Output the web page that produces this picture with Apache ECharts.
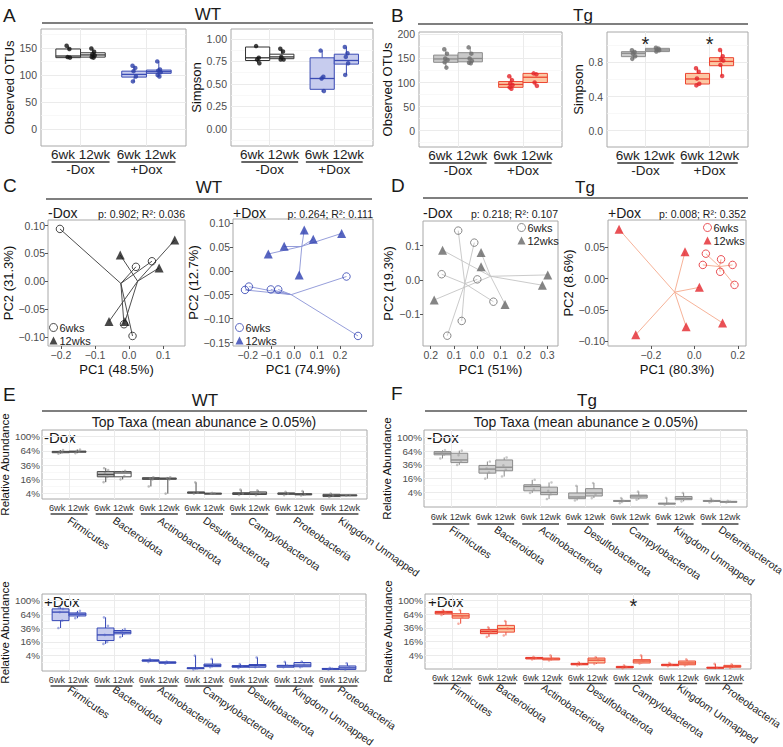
<!DOCTYPE html>
<html><head><meta charset="utf-8">
<script src="https://cdn.jsdelivr.net/npm/echarts@6/dist/echarts.min.js"></script>
<style>html,body{margin:0;padding:0;background:#fff}#c{width:783px;height:747px}</style>
</head><body><div id="c"></div>
<script>
// ================= DATA =================
const TIMES = ['6wk', '12wk'];
const DOX = ['-Dox', '+Dox'];
// Box stats [min, q1, median, q3, max]; order: -Dox 6wk, -Dox 12wk, +Dox 6wk, +Dox 12wk
const wtOtuStats = [[132,132,135,148,154],[132,133,137,141,149],[87,96,101,107,117],[97,103,106,109,125]];
const wtOtuPoints = [[154,148,133,132],[149,143,138,136,133,132],[117,113,107,97,88],[125,110,108,105,100,97]];
const wtSimStats = [[0.73,0.76,0.79,0.91,0.92],[0.77,0.78,0.80,0.83,0.89],[0.41,0.44,0.56,0.79,0.87],[0.60,0.72,0.76,0.83,0.91]];
const wtSimPoints = [[0.92,0.79,0.77,0.73],[0.89,0.86,0.80,0.77,0.77],[0.87,0.58,0.56,0.42],[0.91,0.84,0.80,0.73,0.60]];
const tgOtuStats = [[131,142,149,157,169],[140,143,150,162,173],[87,90,96,102,113],[93,100,111,119,119]];
const tgOtuPoints = [[169,160,150,147,142,131],[173,160,150,145,141,140],[113,105,98,95,90,87],[119,117,100,93]];
const tgSimStats = [[0.835,0.866,0.905,0.924,0.94],[0.92,0.925,0.944,0.963,0.97],[0.53,0.546,0.605,0.67,0.73],[0.64,0.76,0.81,0.854,0.944]];
const tgSimPoints = [[0.94,0.92,0.90,0.87,0.84],[0.97,0.96,0.95,0.94,0.925],[0.73,0.69,0.61,0.55,0.53],[0.944,0.87,0.84,0.82,0.77,0.64]];
const tgSimStars = [[1, 1.084], [2, 1.084]];

// PCoA coordinates [PC1, PC2]
const wtMinus6 = [[-0.203,0.094],[0.020,0.026],[0.067,0.036],[-0.015,-0.077],[0.010,-0.098]];
const wtMinus12 = [[0.134,0.074],[-0.026,0.047],[0.088,0.024],[-0.059,-0.072],[-0.012,-0.072]];
const wtPlus6 = [[0.228,-0.012],[-0.195,-0.033],[-0.212,-0.040],[-0.100,-0.039],[-0.068,-0.039],[0.278,-0.136]];
const wtPlus12 = [[0.045,0.085],[0.207,0.078],[0.084,0.066],[-0.042,0.051],[-0.111,0.035],[0.023,-0.009]];
const tgMinus6 = [[-0.082,0.144],[-0.013,0.109],[-0.153,0.017],[0.000,0.002],[0.069,-0.063],[-0.067,-0.119],[-0.129,-0.162]];
const tgMinus12 = [[-0.149,0.087],[0.016,0.080],[0.016,0.039],[0.302,0.015],[0.279,-0.015],[-0.185,-0.058],[0.119,-0.071]];
const tgPlus6 = [[0.053,0.040],[0.123,0.031],[0.039,0.022],[0.176,0.022],[0.119,0.011],[0.185,-0.010]];
const tgPlus12 = [[-0.347,0.079],[-0.043,0.043],[0.023,-0.014],[0.130,-0.071],[-0.038,-0.077],[-0.270,-0.090]];

// Taxa relative abundance (%), box stats [min,q1,median,q3,max]
const taxaWtMinus = ['Firmicutes','Bacteroidota','Actinobacteriota','Desulfobacterota','Campylobacterota','Proteobacteria','Kingdom Unmapped'];
const wtMinusStats6 = [[58,60,62,63,66],[13,19,22,26,31],[9,16,16.7,18,18.5],[4,4.2,4.6,5,12.8],[3.3,3.5,4,4.5,6.5],[3.2,3.6,4,4.4,5],[2.3,2.5,3,3.6,4]];
const wtMinusStats12 = [[59,61,62.5,63.5,67],[16,19,24,26,27],[4,16,17,17.5,18.5],[3.8,4,4.1,4.2,4.4],[3.2,3.5,4.2,5,6],[3,3.3,3.6,4,5.5],[2.9,3,3.1,3.3,3.4]];
const wtMinusPts6 = [[58,61,63,66],[13,19,24,28,31],[9,16,17,18.5],[4,4.5,12.8],[3.3,4,6.5],[3.2,4,5],[2.3,3,4]];
const wtMinusPts12 = [[59,62,64,67],[16,20,25,27],[4,16,17.5,18.5],[3.9,4.1,4.4],[3.2,4.5,6],[3,3.5,5.5],[2.9,3.2]];

const taxaWtPlus = ['Firmicutes','Bacteroidota','Actinobacteriota','Campylobacterota','Desulfobacterota','Kingdom Unmapped','Proteobacteria'];
const wtPlusStats6 = [[36,50,69,77,81],[13.7,17.5,25,36,57],[1.2,1.4,1.7,1.9,2.2],[0,0.01,0.03,0.06,4],[0.05,0.1,0.2,0.3,0.6],[0.1,0.1,0.25,0.35,1.2],[0,0,0.01,0.02,0.05]];
const wtPlusStats12 = [[55,60,64,67,72],[22,26.6,29,31.8,34],[0.7,0.8,1.0,1.2,1.3],[0.1,0.16,0.35,0.6,2.3],[0.1,0.1,0.3,0.5,3],[0.1,0.15,0.4,1.0,1.3],[0,0,0.05,0.25,0.8]];
const wtPlusPts6 = [[36,50,69,77,81],[13.7,16,25,40,57],[1.2,1.7,2.2],[0,0.02,4],[0.05,0.2,0.6],[0.1,0.3,1.2],[0,0.01,0.05]];
const wtPlusPts12 = [[55,62,66,72],[22,27,30,34],[0.7,1.0,1.3],[0.1,0.4,2.3],[0.1,0.3,3],[0.1,0.5,1.3],[0,0.1,0.8]];

const taxaTgMinus = ['Firmicutes','Bacteroidota','Actinobacteriota','Desulfobacterota','Campylobacterota','Kingdom Unmapped','Deferribacterota'];
const tgMinusStats6 = [[48,55.5,59,62.7,66],[16,23,29,35,42],[3.7,5,8.2,9.7,14.7],[0.7,1.2,1.8,3.7,8.8],[0.2,0.5,0.6,0.7,1.4],[0.05,0.1,0.15,0.2,1.5],[0.3,0.5,0.6,0.7,1.2]];
const tgMinusStats12 = [[36,40,45,59,65],[18.6,26.4,32,45,50],[1.1,2.8,4,7.7,11.9],[1.4,2.2,3.7,6.5,11.3],[0.9,1.4,2.2,2.6,4.5],[0.5,0.9,1.3,2.0,3.7],[0.3,0.4,0.45,0.5,0.6]];
const tgMinusPts6 = [[48,56,60,66],[16,24,30,42],[3.7,6,9,14.7],[0.7,1.5,8.8],[0.2,0.6,1.4],[0.05,0.15,1.5],[0.3,0.6,1.2]];
const tgMinusPts12 = [[36,42,55,65],[18.6,28,35,50],[1.1,3,5,11.9],[1.4,3,11.3],[0.9,2,4.5],[0.5,1.3,3.7],[0.3,0.45,0.6]];

const taxaTgPlus = ['Firmicutes','Bacteroidota','Actinobacteriota','Desulfobacterota','Campylobacterota','Kingdom Unmapped','Proteobacteria'];
const tgPlusStats6 = [[62,64.4,68.5,70.6,74],[22,26.6,30,33,37],[2.0,2.2,2.6,2.9,3.2],[0.3,0.4,0.55,0.7,1.0],[0.02,0.04,0.08,0.16,0.3],[0.2,0.25,0.4,0.5,0.8],[0,0.02,0.04,0.08,0.6]];
const tgPlusStats12 = [[43.7,55,60,65,74],[24,29,34.6,40.5,49],[1.6,1.8,2.2,2.6,4],[0.6,0.8,1.7,2.6,3],[0.7,0.8,1.4,1.9,4],[0.3,0.4,0.8,1.4,2],[0.03,0.08,0.15,0.3,0.5]];
const tgPlusPts6 = [[62,68,74],[22,30,37],[2.0,2.6,3.2],[0.3,0.55,1.0],[0.02,0.1,0.3],[0.2,0.4,0.8],[0,0.04,0.6]];
const tgPlusPts12 = [[43.7,58,74],[24,35,49],[1.6,2.2,4],[0.6,1.7,3],[0.7,1.4,4],[0.3,0.8,2],[0.03,0.15,0.5]];
const tgPlusStars = [[5, 1.0]];

// ================= BUILD =================
const FONT = '"Liberation Sans", Arial, Helvetica, sans-serif';
const TICK_COL = '#4d4d4d';
const GRID_COL = '#ebebeb';
const MINOR_COL = '#f5f5f5';
const BORDER_COL = '#a8a8a8';
const JIT = [-0.04, 0.03, -0.015, 0.045, -0.03, 0.015, 0.0];
const BOX_X = [0.8125, 1.1875, 1.8125, 2.1875];
const TIME_LABEL = TIMES.join(' ');

const grids = [], xAxes = [], yAxes = [], series = [], graphics = [], legends = [];

function addGrid(r) {
  grids.push({left: r[0], top: r[1], width: r[2], height: r[3], show: true, borderColor: BORDER_COL, borderWidth: 1,
    backgroundColor: 'rgba(0,0,0,0)', containLabel: false, outerBoundsMode: 'none'});
  return grids.length - 1;
}
function fmtN(d) { return v => (v < -1e-9 ? '\u2212' : '') + Math.abs(v).toFixed(d); }
function mean(a) { return a.reduce((s, v) => s + v, 0) / a.length; }
const NOLINE = {show: false, onZero: false};

function boxRender(styleOf, bw) {
  return function (params, api) {
    const x = api.value(0);
    const st = styleOf(params.dataIndex);
    const hw = api.size([bw, 0])[0] / 2;
    const pmin = api.coord([x, api.value(1)]);
    const pq1 = api.coord([x, api.value(2)]);
    const pmed = api.coord([x, api.value(3)]);
    const pq3 = api.coord([x, api.value(4)]);
    const pmax = api.coord([x, api.value(5)]);
    const lw = st.lw || 1;
    return {type: 'group', children: [
      {type: 'line', shape: {x1: pmin[0], y1: pmin[1], x2: pq1[0], y2: pq1[1]}, style: {stroke: st.stroke, lineWidth: lw}},
      {type: 'line', shape: {x1: pq3[0], y1: pq3[1], x2: pmax[0], y2: pmax[1]}, style: {stroke: st.stroke, lineWidth: lw}},
      {type: 'rect', shape: {x: pq1[0] - hw, y: pq3[1], width: hw * 2, height: Math.max(pq1[1] - pq3[1], 1)},
        style: {fill: st.fill, stroke: st.stroke, lineWidth: lw}},
      {type: 'line', shape: {x1: pmed[0] - hw, y1: pmed[1], x2: pmed[0] + hw, y2: pmed[1]}, style: {stroke: st.med || st.stroke, lineWidth: lw * 1.3}}
    ]};
  };
}
function underlineSeries(xi, yi, centers, yMin, hw, off, color) {
  series.push({type: 'custom', xAxisIndex: xi, yAxisIndex: yi, silent: true,
    data: centers.map(c => [c, yMin]),
    renderItem: (params, api) => {
      const a = api.coord([api.value(0) - hw, api.value(1)]);
      const b = api.coord([api.value(0) + hw, api.value(1)]);
      return {type: 'line', shape: {x1: a[0], y1: a[1] + off, x2: b[0], y2: b[1] + off}, style: {stroke: color, lineWidth: 1.4}};
    }});
}
function starSeries(xi, yi, data, size) {
  series.push({type: 'custom', xAxisIndex: xi, yAxisIndex: yi, silent: true, data: data,
    renderItem: (params, api) => {
      const c = api.coord([api.value(0), api.value(1)]);
      return {type: 'text', x: c[0], y: c[1] + size * 0.28, style: {text: '*', fontSize: size, fontFamily: FONT, fill: '#222',
        align: 'center', verticalAlign: 'middle', textAlign: 'center', textVerticalAlign: 'middle'}};
    }});
}

function boxPanel(p) {
  const gi = addGrid(p.rect);
  const xi = xAxes.length;
  xAxes.push({type: 'value', gridIndex: gi, min: 0.4, max: 2.6,
    axisLine: NOLINE, axisTick: {show: false, customValues: [1, 2]},
    axisLabel: {customValues: [1, 2], formatter: () => TIME_LABEL, fontSize: 13.5, color: '#222', margin: 1.5, fontFamily: FONT},
    splitLine: {show: true, lineStyle: {color: GRID_COL, width: 1}}});
  xAxes.push({type: 'value', gridIndex: gi, min: 0.4, max: 2.6, position: 'bottom', offset: 16.5,
    axisLine: NOLINE, axisTick: {show: false, customValues: [1, 2]},
    axisLabel: {customValues: [1, 2], formatter: v => DOX[Math.round(v) - 1], fontSize: 13.5, color: '#222', margin: 0, fontFamily: FONT},
    splitLine: {show: false}});
  const yi = yAxes.length;
  yAxes.push({type: 'value', gridIndex: gi, min: p.yMin, max: p.yMax, position: 'left',
    name: p.yName, nameLocation: 'middle', nameGap: p.nameGap, nameTextStyle: {fontSize: 13, color: '#111', fontFamily: FONT},
    axisLine: NOLINE, axisTick: {show: false, customValues: p.yTicks},
    axisLabel: {customValues: p.yTicks, formatter: p.yFmt, fontSize: 10.5, color: TICK_COL, margin: 4, fontFamily: FONT},
    splitLine: {show: true, lineStyle: {color: GRID_COL, width: 1}}});
  yAxes.push({type: 'value', gridIndex: gi, min: p.yMin, max: p.yMax, position: 'left',
    axisLine: NOLINE, axisTick: {show: false, customValues: p.yMinor}, axisLabel: {show: false},
    splitLine: {show: true, lineStyle: {color: MINOR_COL, width: 0.7}}});
  series.push({type: 'custom', xAxisIndex: xi, yAxisIndex: yi, z: 2, silent: true,
    renderItem: boxRender(i => p.styles[i], 0.375),
    data: p.stats.map((s, i) => [BOX_X[i]].concat(s))});
  p.points.forEach((arr, i) => {
    series.push({type: 'scatter', xAxisIndex: xi, yAxisIndex: yi, z: 3, silent: true, symbolSize: 4.5,
      itemStyle: {color: p.styles[i].pt},
      data: arr.map((v, j) => [BOX_X[i] + JIT[j % JIT.length] * 0.6, v])});
  });
  underlineSeries(xi, yi, [1, 2], p.yMin, 0.44, 16, '#333');
  if (p.stars) starSeries(xi, yi, p.stars, 20);
}

function pcoaPanel(p) {
  const gi = addGrid(p.rect);
  const xi = xAxes.length;
  xAxes.push({type: 'value', gridIndex: gi, min: p.xMin, max: p.xMax,
    name: p.xName, nameLocation: 'middle', nameGap: 17, nameTextStyle: {fontSize: 13, color: '#111', fontFamily: FONT},
    axisLine: NOLINE, axisTick: {show: true, customValues: p.xTicks, length: 3, lineStyle: {color: '#555'}},
    axisLabel: {customValues: p.xTicks, formatter: p.xFmt, fontSize: 10.5, color: TICK_COL, margin: 3, fontFamily: FONT},
    splitLine: {show: false}});
  const yi = yAxes.length;
  yAxes.push({type: 'value', gridIndex: gi, min: p.yMin, max: p.yMax,
    name: p.yName, nameLocation: 'middle', nameGap: p.yNameGap, nameTextStyle: {fontSize: 13, color: '#111', fontFamily: FONT},
    axisLine: NOLINE, axisTick: {show: true, customValues: p.yTicks, length: 3, lineStyle: {color: '#555'}},
    axisLabel: {customValues: p.yTicks, formatter: p.yFmt, fontSize: 10.5, color: TICK_COL, margin: 3, fontFamily: FONT},
    splitLine: {show: false}});
  [p.g6, p.g12].forEach(g => {
    const c = [mean(g.map(d => d[0])), mean(g.map(d => d[1]))];
    series.push({type: 'lines', coordinateSystem: 'cartesian2d', xAxisIndex: xi, yAxisIndex: yi, silent: true, z: 1,
      lineStyle: {color: p.line, width: 0.9, opacity: 1},
      data: g.map(d => ({coords: [c, d]}))});
  });
  series.push({type: 'scatter', name: p.key + '|6wks', xAxisIndex: xi, yAxisIndex: yi, z: 3, silent: true,
    symbol: 'circle', symbolSize: 7.5, itemStyle: {color: 'rgba(255,255,255,0)', borderColor: p.c6, borderWidth: 1}, data: p.g6});
  series.push({type: 'scatter', name: p.key + '|12wks', xAxisIndex: xi, yAxisIndex: yi, z: 3, silent: true,
    symbol: 'triangle', symbolSize: 9, itemStyle: {color: p.c12}, data: p.g12});
  legends.push({show: true, left: p.legend[0], top: p.legend[1], orient: 'vertical', padding: 0, itemGap: 2,
    itemWidth: 8, itemHeight: 8, selectedMode: false, data: [p.key + '|6wks', p.key + '|12wks'],
    itemStyle: {borderWidth: 1},
    formatter: n => n.split('|')[1], textStyle: {fontSize: 11, color: '#222', fontFamily: FONT, padding: [0, 0, 0, -3]}});
}

function taxaPanel(p) {
  const gi = addGrid(p.rect);
  const centers = p.taxa.map((t, i) => i + 1);
  const xi = xAxes.length;
  xAxes.push({type: 'value', gridIndex: gi, min: 0.4, max: 7.6,
    axisLine: NOLINE, axisTick: {show: false, customValues: centers},
    axisLabel: {customValues: centers, formatter: () => TIME_LABEL, fontSize: 9.2, color: '#333', margin: p.lblMargin, fontFamily: FONT},
    splitLine: {show: true, lineStyle: {color: GRID_COL, width: 1}}});
  xAxes.push({type: 'value', gridIndex: gi, min: 0.4, max: 7.6, position: 'bottom', offset: 0,
    axisLine: NOLINE, axisTick: {show: false, customValues: centers},
    axisLabel: {customValues: centers, formatter: v => p.taxa[Math.round(v) - 1], rotate: -35, fontSize: 10.5, color: '#222', margin: p.taxMargin, fontFamily: FONT},
    splitLine: {show: false}});
  const yi = yAxes.length;
  const ticks = [0.2, 0.4, 0.6, 0.8, 1.0];
  yAxes.push({type: 'value', gridIndex: gi, min: p.yMin, max: p.yMax, position: 'left',
    name: 'Relative Abundance', nameLocation: 'middle', nameGap: 26, nameTextStyle: {fontSize: 11.5, color: '#111', fontFamily: FONT},
    axisLine: NOLINE, axisTick: {show: false, customValues: ticks},
    axisLabel: {customValues: ticks, formatter: v => Math.round(v * v * 100) + '%', fontSize: 9.8, color: TICK_COL, margin: 2, fontFamily: FONT},
    splitLine: {show: true, lineStyle: {color: GRID_COL, width: 1}}});
  yAxes.push({type: 'value', gridIndex: gi, min: p.yMin, max: p.yMax, position: 'left',
    axisLine: NOLINE, axisTick: {show: false, customValues: [0.1, 0.3, 0.5, 0.7, 0.9]}, axisLabel: {show: false},
    splitLine: {show: true, lineStyle: {color: MINOR_COL, width: 0.7}}});
  const toS = v => Math.sqrt(v / 100);
  [[p.stats6, p.pts6, p.style6, -0.1875], [p.stats12, p.pts12, p.style12, 0.1875]].forEach(([st, pts, sty, off]) => {
    series.push({type: 'custom', xAxisIndex: xi, yAxisIndex: yi, z: 2, silent: true,
      renderItem: boxRender(() => sty, 0.375),
      data: st.map((s, i) => [centers[i] + off].concat(s.map(toS)))});
    const pd = [];
    pts.forEach((arr, i) => arr.forEach((v, j) => pd.push([centers[i] + off + JIT[j % JIT.length] * 1.2, toS(v)])));
    series.push({type: 'scatter', xAxisIndex: xi, yAxisIndex: yi, z: 3, silent: true, symbolSize: 2.6,
      itemStyle: {color: sty.pt, opacity: 0.55}, data: pd});
  });
  underlineSeries(xi, yi, centers, p.yMin, 0.41, p.ulOff, '#444');
  if (p.stars) starSeries(xi, yi, p.stars, 20);
}

// ---- styles ----
const wtMinusSty = {fill: '#ffffff', stroke: '#333333', pt: '#111111'};
const wtPlusSty = {fill: '#c7ccee', stroke: '#3b4cb4', pt: '#2c3ea8'};
const tgMinusSty = {fill: '#c9c9c9', stroke: '#8c8c8c', pt: '#6e6e6e'};
const tgPlusSty = {fill: '#fcc8a4', stroke: '#ec4632', pt: '#e3242b'};

// ---- Panels A / B ----
boxPanel({rect: [41, 29, 145, 117], yMin: -31.5, yMax: 185, yTicks: [0, 50, 100, 150], yMinor: [25, 75, 125, 175], yFmt: v => String(v),
  yName: 'Observed OTUs', nameGap: 21, stats: wtOtuStats, points: wtOtuPoints, styles: [wtMinusSty, wtMinusSty, wtPlusSty, wtPlusSty]});
boxPanel({rect: [231, 29, 142, 117], yMin: -0.19, yMax: 1.11, yTicks: [0, 0.25, 0.5, 0.75, 1.0], yMinor: [-0.125, 0.125, 0.375, 0.625, 0.875], yFmt: fmtN(2),
  yName: 'Simpson', nameGap: 26, stats: wtSimStats, points: wtSimPoints, styles: [wtMinusSty, wtMinusSty, wtPlusSty, wtPlusSty]});
boxPanel({rect: [419, 32, 143, 115], yMin: -34, yMax: 205, yTicks: [0, 50, 100, 150, 200], yMinor: [-25, 25, 75, 125, 175], yFmt: v => String(v),
  yName: 'Observed OTUs', nameGap: 22, stats: tgOtuStats, points: tgOtuPoints, styles: [tgMinusSty, tgMinusSty, tgPlusSty, tgPlusSty]});
boxPanel({rect: [607, 32, 141, 115], yMin: -0.19, yMax: 1.154, yTicks: [0, 0.4, 0.8], yMinor: [-0.2, 0.2, 0.6, 1.0], yFmt: fmtN(1),
  yName: 'Simpson', nameGap: 20, stats: tgSimStats, points: tgSimPoints, styles: [tgMinusSty, tgMinusSty, tgPlusSty, tgPlusSty], stars: tgSimStars});

// ---- Panels C / D ----
pcoaPanel({key: 'C1', rect: [48, 220, 137, 126], xMin: -0.238, xMax: 0.164, yMin: -0.116, yMax: 0.110,
  xTicks: [-0.2, -0.1, 0, 0.1], yTicks: [-0.1, -0.05, 0, 0.05, 0.1], xFmt: fmtN(1), yFmt: fmtN(2),
  xName: 'PC1 (48.5%)', yName: 'PC2 (31.3%)', yNameGap: 27, g6: wtMinus6, g12: wtMinus12,
  c6: '#1a1a1a', c12: '#1a1a1a', line: '#3a3a3a', legend: [49, 322]});
pcoaPanel({key: 'C2', rect: [233, 219, 140, 127], xMin: -0.264, xMax: 0.343, yMin: -0.157, yMax: 0.108,
  xTicks: [-0.2, -0.1, 0, 0.1, 0.2], yTicks: [-0.15, -0.1, -0.05, 0, 0.05, 0.1], xFmt: fmtN(1), yFmt: fmtN(2),
  xName: 'PC1 (74.9%)', yName: 'PC2 (12.7%)', yNameGap: 28, g6: wtPlus6, g12: wtPlus12,
  c6: '#2d3fb0', c12: '#2d3fb0', line: '#8a93d6', legend: [235, 322]});
pcoaPanel({key: 'D1', rect: [423, 221, 135, 125], xMin: -0.233, xMax: 0.346, yMin: -0.192, yMax: 0.172,
  xTicks: [-0.2, -0.1, 0, 0.1, 0.2, 0.3], yTicks: [-0.1, 0, 0.1], xFmt: v => Math.abs(v).toFixed(1), yFmt: fmtN(1),
  xName: 'PC1 (51%)', yName: 'PC2 (19.3%)', yNameGap: 25, g6: tgMinus6, g12: tgMinus12,
  c6: '#6b6b6b', c12: '#666666', line: '#c4c4c4', legend: [517, 222]});
pcoaPanel({key: 'D2', rect: [608, 220, 138, 126], xMin: -0.398, xMax: 0.238, yMin: -0.108, yMax: 0.094,
  xTicks: [-0.2, 0, 0.2], yTicks: [-0.1, -0.05, 0, 0.05], xFmt: fmtN(1), yFmt: fmtN(2),
  xName: 'PC1 (80.3%)', yName: 'PC2 (8.6%)', yNameGap: 28, g6: tgPlus6, g12: tgPlus12,
  c6: '#e4262c', c12: '#e4262c', line: '#f5a98c', legend: [703, 222]});

// ---- Panels E / F ----
taxaPanel({rect: [42, 430, 325, 69], yMin: 0.124, yMax: 1.094, taxa: taxaWtMinus, lblMargin: 4, ulOff: 15, taxMargin: 20,
  stats6: wtMinusStats6, stats12: wtMinusStats12, pts6: wtMinusPts6, pts12: wtMinusPts12,
  style6: {fill: '#bdbdbd', stroke: '#4d4d4d', pt: '#888'}, style12: {fill: '#ffffff', stroke: '#4d4d4d', pt: '#888'}});
taxaPanel({rect: [42, 594, 324, 77], yMin: -0.023, yMax: 1.093, taxa: taxaWtPlus, lblMargin: 4, ulOff: 15, taxMargin: 17,
  stats6: wtPlusStats6, stats12: wtPlusStats12, pts6: wtPlusPts6, pts12: wtPlusPts12,
  style6: {fill: '#c7ccee', stroke: '#3446b5', pt: '#5566c8'}, style12: {fill: '#c7ccee', stroke: '#3446b5', pt: '#5566c8'}});
taxaPanel({rect: [424, 430, 323, 77], yMin: -0.011, yMax: 1.105, taxa: taxaTgMinus, lblMargin: 5.5, ulOff: 17, taxMargin: 21,
  stats6: tgMinusStats6, stats12: tgMinusStats12, pts6: tgMinusPts6, pts12: tgMinusPts12,
  style6: {fill: '#cfcfcf', stroke: '#8a8a8a', pt: '#9a9a9a'}, style12: {fill: '#cfcfcf', stroke: '#8a8a8a', pt: '#9a9a9a'}});
taxaPanel({rect: [425, 594, 326, 75], yMin: 0.002, yMax: 1.093, taxa: taxaTgPlus, lblMargin: 4, ulOff: 14.5, taxMargin: 17,
  stats6: tgPlusStats6, stats12: tgPlusStats12, pts6: tgPlusPts6, pts12: tgPlusPts12,
  style6: {fill: '#f7a184', stroke: '#e8372b', pt: '#ef6a55'}, style12: {fill: '#fcc6a2', stroke: '#ec4a36', pt: '#ef6a55'}, stars: tgPlusStars});

// ---- text decorations ----
function txt(x, y, s, size, align, color) {
  graphics.push({type: 'text', x: x, y: y, silent: true,
    style: {text: s, fontSize: size, fontFamily: FONT, fill: color || '#1a1a1a',
      align: align || 'left', textAlign: align || 'left', verticalAlign: 'middle', textVerticalAlign: 'middle'}});
}
function hline(x1, x2, y) {
  graphics.push({type: 'line', silent: true, shape: {x1: x1, y1: y, x2: x2, y2: y}, style: {stroke: '#555', lineWidth: 1.5}});
}
txt(3, 15, 'A', 19); txt(391, 15, 'B', 19); txt(3, 185, 'C', 19); txt(391, 185, 'D', 19); txt(3, 394, 'E', 19); txt(391, 393, 'F', 19);
txt(208, 14, 'WT', 17, 'center'); txt(583, 15, 'Tg', 17, 'center');
txt(209, 187, 'WT', 17, 'center'); txt(585, 187, 'Tg', 17, 'center');
txt(205, 400, 'WT', 17, 'center'); txt(587, 400, 'Tg', 17, 'center');
hline(42, 373, 23); hline(418, 748, 24); hline(46, 372, 199); hline(423, 748, 198); hline(42, 367, 411); hline(425, 747, 411);
txt(48, 213, '-Dox', 14); txt(185, 214, 'p: 0.902; R\u00b2: 0.036', 10.5, 'right');
txt(233, 213, '+Dox', 14); txt(373, 214, 'p: 0.264; R\u00b2: 0.111', 10.5, 'right');
txt(423, 213, '-Dox', 14); txt(558, 214, 'p: 0.218; R\u00b2: 0.107', 10.5, 'right');
txt(608, 213, '+Dox', 14); txt(746, 214, 'p: 0.008; R\u00b2: 0.352', 10.5, 'right');
txt(204, 422, 'Top Taxa (mean abunance \u2265 0.05%)', 14, 'center');
txt(586, 422, 'Top Taxa (mean abunance \u2265 0.05%)', 14, 'center');
txt(44, 437, '-Dox', 15); txt(44, 601, '+Dox', 15); txt(427, 437, '-Dox', 15); txt(428, 601, '+Dox', 15);

const chart = echarts.init(document.getElementById('c'), null, {renderer: 'svg', width: 783, height: 747});
chart.setOption({
  animation: false,
  backgroundColor: '#ffffff',
  textStyle: {fontFamily: FONT},
  grid: grids, xAxis: xAxes, yAxis: yAxes, series: series, legend: legends,
  graphic: {elements: graphics}
});
</script></body></html>
